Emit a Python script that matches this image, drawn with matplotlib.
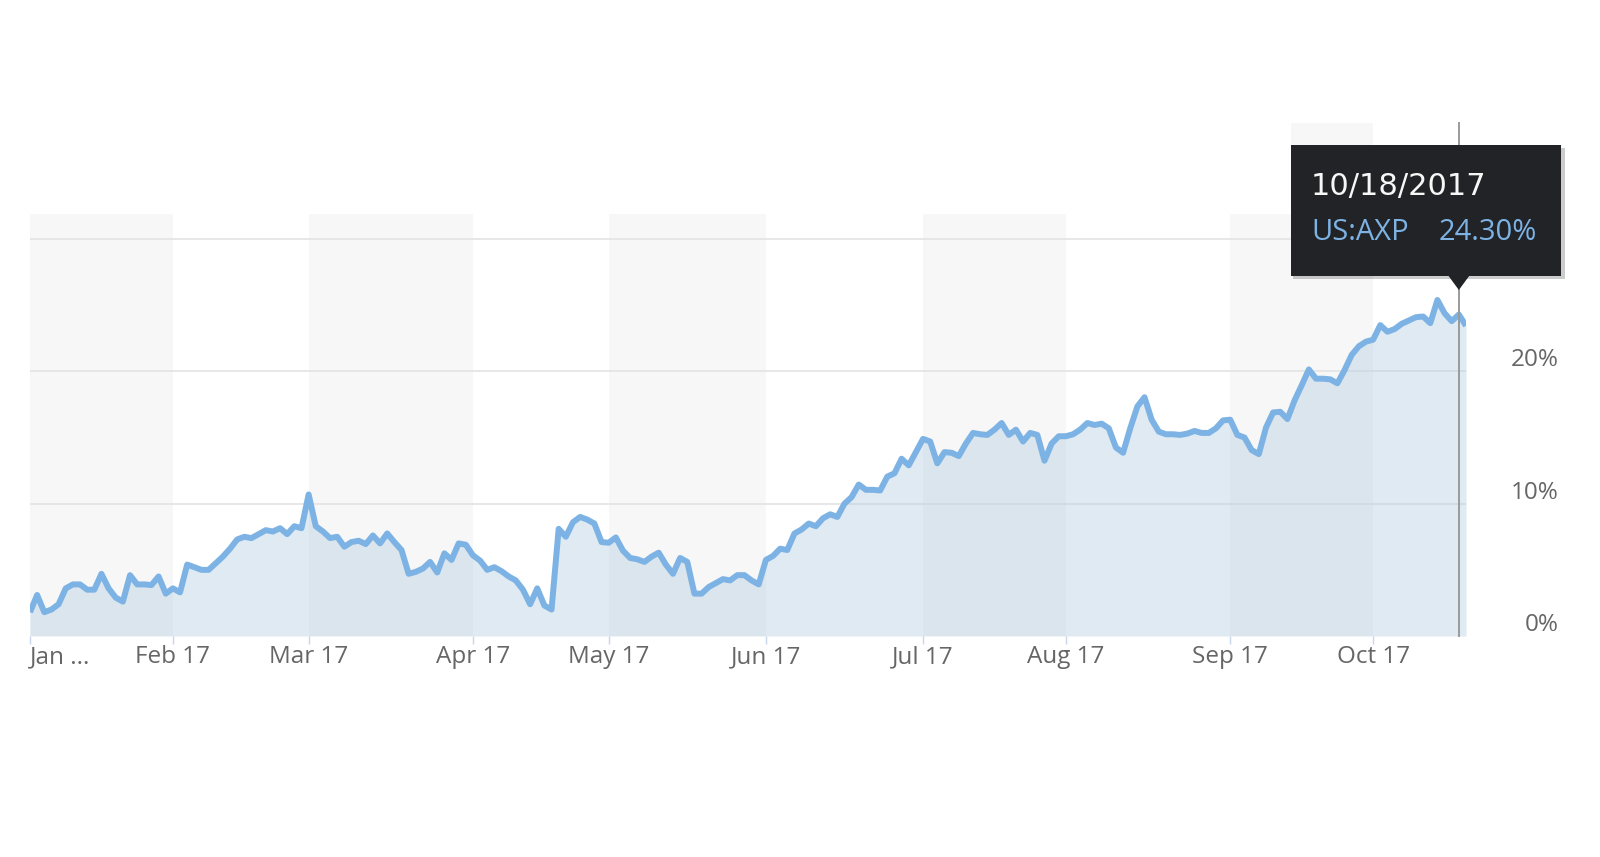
import pandas as pd
import matplotlib.pyplot as plt
from matplotlib.patches import Rectangle, Polygon
from matplotlib.transforms import offset_copy

# NYSE trading days, Jan 3 - Oct 19 2017
holidays = ['2017-01-16', '2017-02-20', '2017-04-14', '2017-05-29', '2017-07-04', '2017-09-04']
dates = pd.bdate_range('2017-01-03', '2017-10-19', freq='C', holidays=holidays)

# US:AXP, % change since start of year
axp_return = [
    1.8, 3.1, 1.8, 2.0, 2.4, 3.6, 3.9, 3.9, 3.5, 3.5,
    4.7, 3.6, 2.9, 2.6, 4.6, 3.9, 3.9, 3.85, 4.5, 3.2,
    3.6, 3.3, 5.4, 5.2, 5.0, 5.0, 5.5, 6.0, 6.6, 7.3,
    7.5, 7.4, 7.7, 8.0, 7.9, 8.15, 7.7, 8.3, 8.15, 10.7,
    8.3, 7.9, 7.4, 7.5, 6.75, 7.1, 7.2, 6.95, 7.6, 7.0,
    7.75, 7.1, 6.5, 4.7, 4.85, 5.1, 5.6, 4.8, 6.25, 5.75,
    7.0, 6.9, 6.1, 5.7, 5.0, 5.2, 4.9, 4.5, 4.2, 3.5,
    2.4, 3.6, 2.3, 2.0, 8.1, 7.5, 8.6, 9.0, 8.8, 8.5,
    7.1, 7.05, 7.45, 6.45, 5.9, 5.8, 5.6, 6.0, 6.3, 5.4,
    4.7, 5.9, 5.6, 3.2, 3.2, 3.7, 4.0, 4.3, 4.2, 4.6,
    4.6, 4.2, 3.9, 5.75, 6.05, 6.6, 6.5, 7.75, 8.05, 8.5,
    8.3, 8.9, 9.2, 9.0, 10.0, 10.5, 11.45, 11.05, 11.05, 11.0,
    12.05, 12.3, 13.4, 12.9, 13.9, 14.9, 14.7, 13.05, 13.9, 13.85,
    13.6, 14.55, 15.35, 15.25, 15.2, 15.6, 16.1, 15.2, 15.6, 14.7,
    15.35, 15.2, 13.25, 14.55, 15.1, 15.1, 15.25, 15.6, 16.1, 15.95,
    16.05, 15.7, 14.25, 13.85, 15.7, 17.35, 18.05, 16.35, 15.45, 15.25,
    15.25, 15.2, 15.3, 15.5, 15.35, 15.35, 15.7, 16.3, 16.35, 15.2,
    15.0, 14.05, 13.75, 15.75, 16.9, 16.95, 16.4, 17.8, 18.95, 20.15,
    19.45, 19.45, 19.4, 19.1, 20.1, 21.25, 21.9, 22.25, 22.4, 23.5,
    23.0, 23.2, 23.6, 23.85, 24.1, 24.15, 23.65, 25.4, 24.4, 23.8,
    24.3, 23.45,
]

month_labels = ['Jan ...', 'Feb 17', 'Mar 17', 'Apr 17', 'May 17', 'Jun 17',
                'Jul 17', 'Aug 17', 'Sep 17', 'Oct 17']
y_ticks = [10, 20, 30]
y_labels = {0: '0%', 10: '10%', 20: '20%'}
ticker = 'US:AXP'
tip_date = '2017-10-18'

W, H = 1600, 857
LINE = '#7db3e4'
FONT = 'Open Sans'

idx = list(range(len(dates)))
month_starts = [0] + [i for i in idx[1:] if dates[i].month != dates[i - 1].month]
tip_i = dates.get_loc(pd.Timestamp(tip_date))

fig = plt.figure(figsize=(W / 100, H / 100), dpi=100)
ax = fig.add_axes([30 / W, 1 - 636 / H, 1436 / W, 422 / H])

# alternate month bands
bounds = month_starts + [idx[-1]]
for k in range(0, len(month_starts), 2):
    ax.axvspan(bounds[k], bounds[k + 1], color='#f7f7f7', lw=0, zorder=0)

ax.fill_between(idx, 0, axp_return, color='#b5cde0', alpha=0.42, lw=0, zorder=2)
ax.plot(idx, axp_return, color=LINE, lw=4.3, solid_joinstyle='round',
        solid_capstyle='butt', zorder=3)

ax.set_xlim(0, idx[-1])
ax.set_ylim(0, 31.9)
ax.set_yticks(y_ticks)
ax.grid(axis='y', color='#e3e3e3', lw=1.2, zorder=1)
ax.set_axisbelow(True)
for s in ax.spines.values():
    s.set_visible(False)

ax.set_xticks(month_starts, month_labels)
ax.tick_params(axis='x', length=5.5, width=1, color='#ccd6eb', pad=1,
               labelsize=17.5, labelcolor='#666666')
ax.tick_params(axis='y', length=0, labelleft=False)
for lab in ax.get_xticklabels():
    lab.set_fontfamily(FONT)
ax.get_xticklabels()[0].set_ha('left')
ax.get_xticklabels()[0].set_x(0.5)

ytr = offset_copy(ax.get_yaxis_transform(), fig=fig, x=0, y=11, units='dots')
for v, lab in y_labels.items():
    ax.text(1.0648, v, lab, transform=ytr, ha='right', va='center',
            fontsize=17.5, color='#666666', family=FONT)

# crosshair at the hovered day
top_frac = (636 - 123) / 422
ax.axvline(tip_i, ymin=0, ymax=top_frac, color='#9a9a9a', lw=1.4, clip_on=False, zorder=4)
ax.add_patch(Rectangle((176.5, 1.0), bounds[9] - 176.5, top_frac - 1.0,
                       transform=ax.get_xaxis_transform(), color='#f7f7f7',
                       lw=0, clip_on=False, zorder=0))

# tooltip
def f(x, y):
    return (x / W, 1 - y / H)

fig.canvas.draw()
apex_x = ax.transData.transform((tip_i, 0))[0]
bx0, bx1, by0, by1 = 1291, 1561, 145, 276
fig.add_artist(Rectangle(f(bx0 + 2, by1 + 3), (bx1 - bx0 + 2) / W, (by1 - by0) / H,
                         transform=fig.transFigure, color='black', alpha=0.2, lw=0))
fig.add_artist(Rectangle(f(bx0, by1), (bx1 - bx0) / W, (by1 - by0) / H,
                         transform=fig.transFigure, color='#222326', lw=0))
fig.add_artist(Polygon([f(apex_x - 11, by1 - 1), f(apex_x + 11, by1 - 1), f(apex_x, by1 + 14)],
                       transform=fig.transFigure, color='#222326', lw=0))

value = axp_return[tip_i]
fig.text(*f(1311, 186), dates[tip_i].strftime('%m/%d/%Y'), ha='left', va='center',
         fontsize=22, color='#f7f7f7', family='DejaVu Sans')
fig.text(*f(1311, 232), ticker, ha='left', va='center',
         fontsize=21, color=LINE, family=FONT)
fig.text(*f(1439, 232), f'{value:.2f}%', ha='left', va='center',
         fontsize=21, color=LINE, family=FONT)

fig.savefig('out.png', dpi=100, facecolor='white')
